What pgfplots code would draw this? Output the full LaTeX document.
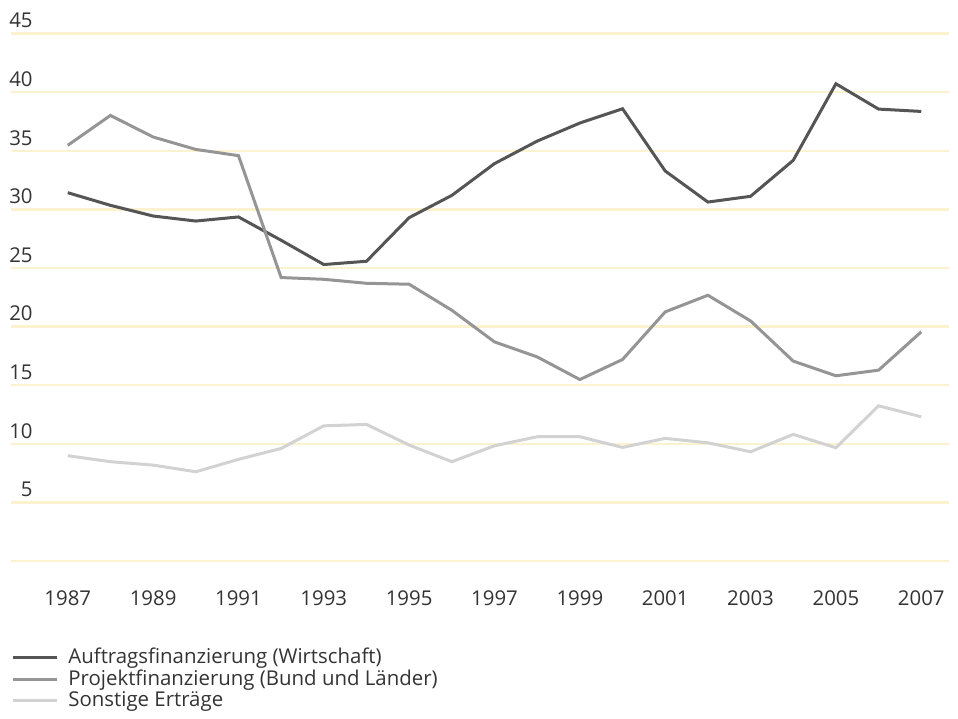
\documentclass[border=0pt]{standalone}
\usepackage{fontspec}
\setmainfont{Open Sans}
\usepackage{pgfplots}
\pgfplotsset{compat=1.18}

\definecolor{dark}{HTML}{555555}
\definecolor{mid}{HTML}{959595}
\definecolor{light}{HTML}{D2D2D2}
\definecolor{gridy}{HTML}{FBF3CF}
\definecolor{txt}{HTML}{333333}

\begin{document}
\begin{tikzpicture}
\begin{axis}[
  name=ax,
  scale only axis,
  width=469pt, height=263.75pt,
  xmin=1985.67, xmax=2007.65,
  ymin=0, ymax=45,
  xtick={1987,1989,...,2007},
  ytick={0,5,...,45},
  yticklabels={,5,10,15,20,25,30,35,40,45},
  /pgf/number format/assume math mode=true,
  xticklabel={\pgfmathprintnumber[1000 sep={}]{\tick}},
  axis line style={draw=none},
  major tick length=0pt,
  ymajorgrids,
  grid style={gridy, line width=1.2pt},
  tick label style={font=\fontsize{10.2}{12}\selectfont, text=txt},
  yticklabel style={anchor=south east, inner sep=0pt, xshift=11pt, yshift=2.5pt},
  xticklabel style={anchor=north, inner sep=0pt, yshift=-14.5pt},
  legend style={at={(0,0)}, anchor=north west, yshift=-41.5pt, draw=none, fill=none,
    font=\fontsize{10.2}{12}\selectfont, text=txt, inner sep=0pt,
    row sep=-2.6pt, column sep=3pt, cells={anchor=west}},
  legend cell align=left,
  legend image code/.code={\draw[#1, line width=1.5pt] (0pt,0pt) -- (22pt,0pt);},
  every axis plot/.append style={line width=1.5pt, line join=miter},
]
\addplot[dark] coordinates {
(1987,31.42) (1988,30.34) (1989,29.43) (1990,29.00) (1991,29.35)
(1992,27.36) (1993,25.29) (1994,25.57) (1995,29.29) (1996,31.19)
(1997,33.90) (1998,35.82) (1999,37.36) (2000,38.58) (2001,33.27)
(2002,30.62) (2003,31.11) (2004,34.18) (2005,40.71) (2006,38.55)
(2007,38.35)};
\addlegendentry{Auftragsfinanzierung (Wirtschaft)}
\addplot[mid] coordinates {
(1987,35.46) (1988,38.01) (1989,36.17) (1990,35.11) (1991,34.58)
(1992,24.18) (1993,24.03) (1994,23.69) (1995,23.61) (1996,21.39)
(1997,18.69) (1998,17.41) (1999,15.48) (2000,17.19) (2001,21.25)
(2002,22.67) (2003,20.48) (2004,17.05) (2005,15.80) (2006,16.28)
(2007,19.55)};
\addlegendentry{Projektfinanzierung (Bund und Länder)}
\addplot[light] coordinates {
(1987,8.98) (1988,8.47) (1989,8.18) (1990,7.61) (1991,8.67)
(1992,9.60) (1993,11.53) (1994,11.65) (1995,9.89) (1996,8.47)
(1997,9.83) (1998,10.60) (1999,10.60) (2000,9.69) (2001,10.46)
(2002,10.08) (2003,9.32) (2004,10.80) (2005,9.66) (2006,13.24)
(2007,12.30)};
\addlegendentry{Sonstige Erträge}
\end{axis}
\pgfresetboundingbox
\path[use as bounding box] ([xshift=-5.5pt,yshift=-79pt]ax.south west) rectangle ([xshift=4.5pt,yshift=16.75pt]ax.north east);
\end{tikzpicture}
\end{document}
